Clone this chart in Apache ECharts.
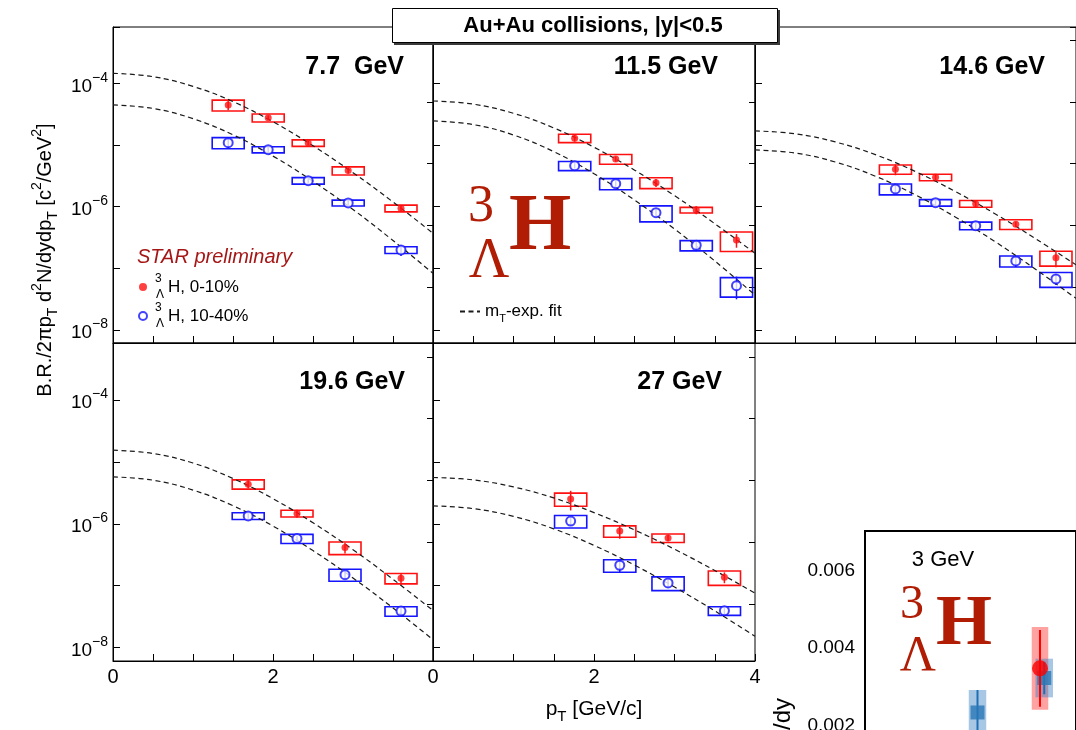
<!DOCTYPE html>
<html>
<head>
<meta charset="utf-8">
<script src="https://cdn.jsdelivr.net/npm/echarts@6/dist/echarts.min.js"></script>
<style>
  html, body { margin: 0; padding: 0; background: #fff; }
  #chart { width: 1076px; height: 730px; }
</style>
</head>
<body>
<div id="chart"></div>
<script>
// ---------------------------------------------------------------------------
// Hypertriton pT spectra in Au+Au collisions, five beam energies,
// two centrality classes, with mT-exponential fits; plus a 3 GeV dN/dy inset.
// ---------------------------------------------------------------------------

const energies = ['7.7  GeV', '11.5 GeV', '14.6 GeV', '19.6 GeV', '27 GeV'];

// pT bin centres [GeV/c], one row per energy
const ptCentres = [
  [1.44, 1.94, 2.44, 2.94, 3.6],
  [1.76, 2.27, 2.77, 3.27, 3.77],
  [1.75, 2.25, 2.75, 3.25, 3.75],
  [1.69, 2.3, 2.9, 3.6],
  [1.71, 2.32, 2.92, 3.62]
];

// B.R./(2 pi pT) d2N/dy dpT [c^2/GeV^2], 0-10% central
const yield0010 = [
  [4.45e-5, 2.77e-5, 1.08e-5, 3.84e-6, 9.4e-7],
  [1.29e-5, 5.93e-6, 2.45e-6, 8.83e-7, 2.88e-7],
  [4.04e-6, 2.99e-6, 1.12e-6, 5.19e-7, 1.49e-7],
  [4.38e-6, 1.47e-6, 4.13e-7, 1.32e-7],
  [2.53e-6, 7.67e-7, 5.92e-7, 1.37e-7]
];
// same, 10-40% centrality
const yield1040 = [
  [1.09e-5, 8.4e-6, 2.64e-6, 1.15e-6, 1.99e-7],
  [4.62e-6, 2.36e-6, 8.0e-7, 2.37e-7, 5.25e-8],
  [1.94e-6, 1.16e-6, 4.92e-7, 1.32e-7, 6.73e-8],
  [1.34e-6, 5.78e-7, 1.51e-7, 3.89e-8],
  [1.11e-6, 2.14e-7, 1.11e-7, 3.95e-8]
];

// relative statistical uncertainties
const stat0010 = [
  [0.18, 0.08, 0.08, 0.1, 0.12],
  [0.12, 0.1, 0.15, 0.15, 0.25],
  [0.2, 0.12, 0.12, 0.1, 0.3],
  [0.15, 0.15, 0.2, 0.22],
  [0.35, 0.25, 0.12, 0.2]
];
const stat1040 = [
  [0.2, 0.1, 0.08, 0.08, 0.2],
  [0.1, 0.1, 0.12, 0.2, 0.4],
  [0.15, 0.1, 0.12, 0.2, 0.2],
  [0.1, 0.1, 0.15, 0.2],
  [0.15, 0.25, 0.15, 0.15]
];
// relative systematic uncertainties (boxes)
const sys0010 = [
  [0.2, 0.15, 0.12, 0.15, 0.125],
  [0.155, 0.18, 0.2, 0.105, 0.35],
  [0.17, 0.12, 0.125, 0.18, 0.27],
  [0.17, 0.125, 0.23, 0.19],
  [0.24, 0.21, 0.155, 0.26]
];
const sys1040 = [
  [0.205, 0.115, 0.12, 0.11, 0.125],
  [0.17, 0.205, 0.29, 0.19, 0.35],
  [0.2, 0.12, 0.14, 0.205, 0.27],
  [0.125, 0.17, 0.22, 0.175],
  [0.23, 0.23, 0.25, 0.16]
];

// mT-exponential fit curves, sampled in pT
const fitPt = [0, 0.5, 1, 1.5, 2, 2.5, 3, 3.5, 4];
const fit0010 = [
  [1.45e-4, 1.28e-4, 8.9e-5, 5.05e-5, 2.38e-5, 9.7e-6, 3.56e-6, 1.19e-6, 3.7e-7],
  [5.16e-5, 4.59e-5, 3.26e-5, 1.89e-5, 9.2e-6, 3.94e-6, 1.51e-6, 5.3e-7, 1.76e-7],
  [1.69e-5, 1.52e-5, 1.12e-5, 6.97e-6, 3.71e-6, 1.75e-6, 7.55e-7, 3.01e-7, 1.14e-7],
  [1.55e-5, 1.37e-5, 9.6e-6, 5.4e-6, 2.55e-6, 1.04e-6, 3.82e-7, 1.27e-7, 3.98e-8],
  [5.61e-6, 5.13e-6, 3.95e-6, 2.62e-6, 1.52e-6, 8.0e-7, 3.89e-7, 1.76e-7, 7.6e-8]
];
const fit1040 = [
  [4.45e-5, 3.91e-5, 2.67e-5, 1.46e-5, 6.6e-6, 2.58e-6, 9.0e-7, 2.83e-7, 8.3e-8],
  [2.45e-5, 2.14e-5, 1.45e-5, 7.8e-6, 3.43e-6, 1.29e-6, 4.35e-7, 1.32e-7, 3.7e-8],
  [8.3e-6, 7.4e-6, 5.3e-6, 3.12e-6, 1.55e-6, 6.76e-7, 2.67e-7, 9.6e-8, 3.27e-8],
  [5.74e-6, 5.07e-6, 3.51e-6, 1.96e-6, 9.2e-7, 3.69e-7, 1.33e-7, 4.37e-8, 1.34e-8],
  [1.95e-6, 1.76e-6, 1.32e-6, 8.3e-7, 4.48e-7, 2.16e-7, 9.5e-8, 3.92e-8, 1.52e-8]
];

// half width of the pT bins [GeV/c]
const PT_HALF_WIDTH = 0.2;

// 3 GeV inset: dN/dy values
const insetRedPos = [7.0];
const insetRedY = [0.00348];
const insetRedStat = [0.00099];
const insetRedSys = [0.00107];
const insetBluePos = [4.5, 7.17];
const insetBlueY = [0.00234, 0.00323];
const insetBlueStat = [0.00058, 0.00042];
const insetBlueSys = [0.00058, 0.0005];
const INSET_HALF_WIDTH = 0.33;

// ---------------------------------------------------------------------------
const SANS = '"Liberation Sans", Arial, Helvetica, sans-serif';
const SERIF = '"Liberation Serif", "Times New Roman", serif';
const RED = '#ff1010';
const BLUE = '#1414ff';
const HRED = '#b01c04';

// panel frames (pixels) and vertical ranges of the two rows
const panelBoxes = [
  { left: 113, top: 27, width: 320, height: 316 },
  { left: 433, top: 27, width: 322, height: 316 },
  { left: 755, top: 27, width: 321, height: 316 },
  { left: 113, top: 343, width: 320, height: 318 },
  { left: 433, top: 343, width: 322, height: 318 }
];
const rowRange = [
  [6.17e-9, 8.17e-4],
  [6.07e-9, 8.36e-4]
];

function decadeLabel(v) {
  const e = Math.log10(v);
  const n = Math.round(e);
  if (Math.abs(e - n) > 1e-6 || n % 2 !== 0) return '';
  return '{b|10}{s|' + (n < 0 ? '\u2212' + (-n) : String(n)) + '}';
}

function boxRenderer(stroke, lw) {
  return function (params, api) {
    const x = api.value(0), y = api.value(1), e = api.value(2);
    const a = api.coord([x - PT_HALF_WIDTH, y * (1 + e)]);
    const b = api.coord([x + PT_HALF_WIDTH, y * (1 - e)]);
    return {
      type: 'rect',
      shape: { x: a[0], y: a[1], width: b[0] - a[0], height: b[1] - a[1] },
      style: { fill: 'none', stroke: stroke, lineWidth: lw }
    };
  };
}
function barRenderer(stroke, lw) {
  return function (params, api) {
    const x = api.value(0), y = api.value(1), e = api.value(2);
    const a = api.coord([x, y * (1 + e)]);
    const b = api.coord([x, y * (1 - e)]);
    return {
      type: 'line',
      shape: { x1: a[0], y1: a[1], x2: b[0], y2: b[1] },
      style: { stroke: stroke, lineWidth: lw }
    };
  };
}
function absBoxRenderer(fill, half) {
  return function (params, api) {
    const x = api.value(0), y = api.value(1), e = api.value(2);
    const a = api.coord([x - half, y + e]);
    const b = api.coord([x + half, y - e]);
    return {
      type: 'rect',
      shape: { x: a[0], y: a[1], width: b[0] - a[0], height: b[1] - a[1] },
      style: { fill: fill }
    };
  };
}
function absBarRenderer(stroke, lw) {
  return function (params, api) {
    const x = api.value(0), y = api.value(1), e = api.value(2);
    const a = api.coord([x, y + e]);
    const b = api.coord([x, y - e]);
    return {
      type: 'line',
      shape: { x1: a[0], y1: a[1], x2: b[0], y2: b[1] },
      style: { stroke: stroke, lineWidth: lw }
    };
  };
}

const grid = [];
const xAxis = [];
const yAxis = [];
const series = [];

panelBoxes.forEach((box, i) => {
  const row = i < 3 ? 0 : 1;
  const [ymin, ymax] = rowRange[row];
  grid.push(Object.assign({}, box, {
    show: true, borderColor: '#000', borderWidth: 1,
    backgroundColor: 'transparent', containLabel: false, outerBoundsMode: 'none'
  }));
  const xa = {
    gridIndex: i, type: 'value', min: 0, max: 4, interval: 0.5,
    axisLine: { show: true, onZero: false, lineStyle: { color: '#000', width: 1 } },
    axisTick: { show: true, inside: true, length: 7, lineStyle: { color: '#000', width: 1 } },
    splitLine: { show: false },
    axisLabel: {
      show: i >= 3, fontFamily: SANS, fontSize: 20, color: '#000', margin: 6,
      formatter: v => (Math.abs(v % 2) < 1e-9 && (i === 4 || v < 3.9)) ? String(v) : ''
    }
  };
  if (i === 4) {
    xa.name = '{t|p}{sub|T}{t| [GeV/c]}';
    xa.nameLocation = 'middle';
    xa.nameGap = 33;
    xa.nameTextStyle = {
      color: '#000',
      rich: {
        t: { fontFamily: SANS, fontSize: 21, color: '#000', lineHeight: 30 },
        sub: { fontFamily: SANS, fontSize: 15, color: '#000', verticalAlign: 'bottom', lineHeight: 30 }
      }
    };
  }
  xAxis.push(xa);
  // decade ticks + labels
  yAxis.push({
    gridIndex: i, type: 'log', logBase: 10, min: ymin, max: ymax,
    axisLine: { show: true, lineStyle: { color: '#000', width: 1 } },
    axisTick: { show: true, inside: true, length: 7, lineStyle: { color: '#000', width: 1 } },
    splitLine: { show: false },
    axisLabel: {
      show: i === 0 || i === 3, margin: 5, formatter: decadeLabel,
      lineHeight: 25,
      rich: {
        b: { fontFamily: SANS, fontSize: 19, color: '#000', verticalAlign: 'bottom', lineHeight: 25 },
        s: { fontFamily: SANS, fontSize: 14, color: '#000', verticalAlign: 'top', lineHeight: 25 }
      }
    }
  });
});
// 5 x 10^n ticks: a second log axis shifted by a factor 5
panelBoxes.forEach((box, i) => {
  const [ymin, ymax] = rowRange[i < 3 ? 0 : 1];
  yAxis.push({
    gridIndex: i, type: 'log', logBase: 10, min: ymin / 5, max: ymax / 5,
    axisLine: { show: false },
    axisTick: { show: true, inside: true, length: 6, lineStyle: { color: '#000', width: 1 } },
    splitLine: { show: false },
    axisLabel: { show: false }
  });
});

// series for each panel
panelBoxes.forEach((box, i) => {
  const pts = ptCentres[i];
  const mk = (vals, errs) => pts.map((x, k) => [x, vals[k], errs[k]]);
  series.push({
    name: 'sys 0-10%', type: 'custom', xAxisIndex: i, yAxisIndex: i,
    encode: { x: 0, y: 1 }, renderItem: boxRenderer(RED, 1.6),
    data: mk(yield0010[i], sys0010[i]), z: 2, silent: true
  });
  series.push({
    name: 'sys 10-40%', type: 'custom', xAxisIndex: i, yAxisIndex: i,
    encode: { x: 0, y: 1 }, renderItem: boxRenderer(BLUE, 1.6),
    data: mk(yield1040[i], sys1040[i]), z: 2, silent: true
  });
  [fit0010[i], fit1040[i]].forEach(f => {
    series.push({
      name: 'mT-exp. fit', type: 'line', xAxisIndex: i, yAxisIndex: i,
      data: fitPt.map((x, k) => [x, f[k]]), smooth: 0.4, showSymbol: false, symbol: 'none',
      lineStyle: { color: '#1a1a1a', width: 1.2, type: [5, 3.5] },
      itemStyle: { color: '#1a1a1a' }, z: 3, silent: true
    });
  });
  series.push({
    name: 'stat 0-10%', type: 'custom', xAxisIndex: i, yAxisIndex: i,
    encode: { x: 0, y: 1 }, renderItem: barRenderer(RED, 1.5),
    data: mk(yield0010[i], stat0010[i]), z: 4, silent: true
  });
  series.push({
    name: 'stat 10-40%', type: 'custom', xAxisIndex: i, yAxisIndex: i,
    encode: { x: 0, y: 1 }, renderItem: barRenderer(BLUE, 1.5),
    data: mk(yield1040[i], stat1040[i]), z: 4, silent: true
  });
  series.push({
    name: '0-10%', type: 'scatter', xAxisIndex: i, yAxisIndex: i,
    data: pts.map((x, k) => [x, yield0010[i][k]]),
    symbol: 'circle', symbolSize: 7, itemStyle: { color: RED }, z: 5
  });
  series.push({
    name: '10-40%', type: 'scatter', xAxisIndex: i, yAxisIndex: i,
    data: pts.map((x, k) => [x, yield1040[i][k]]),
    symbol: 'emptyCircle', symbolSize: 9,
    itemStyle: { color: BLUE, borderColor: BLUE, borderWidth: 1.4 }, z: 5
  });
});

// ---- 3 GeV inset -----------------------------------------------------------
const insetGrid = grid.length;
grid.push({
  left: 865, top: 531, width: 211, height: 272, show: true,
  backgroundColor: '#fff', borderColor: '#000', borderWidth: 2,
  containLabel: false, outerBoundsMode: 'none', z: 1
});
const insetX = xAxis.length;
xAxis.push({
  gridIndex: insetGrid, type: 'value', position: 'top', min: 0, max: 8.44, interval: 1,
  axisLine: { show: true, lineStyle: { color: '#000', width: 2 } },
  axisTick: { show: true, inside: true, length: 6, lineStyle: { color: '#000', width: 1.5 } },
  axisLabel: { show: false }, splitLine: { show: false }
});
const insetY = yAxis.length;
yAxis.push({
  gridIndex: insetGrid, type: 'value', min: 0, max: 0.00703, interval: 0.002,
  axisLine: { show: true, lineStyle: { color: '#000', width: 2 } },
  axisTick: { show: true, inside: true, length: 9, lineStyle: { color: '#000', width: 1.5 } },
  minorTick: { show: true, splitNumber: 4, length: 5, lineStyle: { color: '#000', width: 1.2 } },
  splitLine: { show: false }, minorSplitLine: { show: false },
  axisLabel: {
    fontFamily: SANS, fontSize: 19, color: '#000', margin: 10,
    formatter: v => (v > 0 && v < 0.007) ? v.toFixed(3) : ''
  }
});
const insetCommon = { xAxisIndex: insetX, yAxisIndex: insetY, silent: true };
series.push(Object.assign({
  name: 'inset red sys', type: 'custom', encode: { x: 0, y: 1 },
  renderItem: absBoxRenderer('rgba(255,70,70,0.5)', INSET_HALF_WIDTH),
  data: insetRedPos.map((x, k) => [x, insetRedY[k], insetRedSys[k]]), z: 6
}, insetCommon));
series.push(Object.assign({
  name: 'inset blue sys', type: 'custom', encode: { x: 0, y: 1 },
  renderItem: absBoxRenderer('rgba(60,130,195,0.45)', INSET_HALF_WIDTH + 0.02),
  data: insetBluePos.map((x, k) => [x, insetBlueY[k], insetBlueSys[k]]), z: 6
}, insetCommon));
series.push(Object.assign({
  name: 'inset blue stat', type: 'custom', encode: { x: 0, y: 1 },
  renderItem: absBarRenderer('#1f6fb4', 2),
  data: insetBluePos.map((x, k) => [x, insetBlueY[k], insetBlueStat[k]]), z: 7
}, insetCommon));
series.push(Object.assign({
  name: 'inset blue', type: 'scatter', symbol: 'rect', symbolSize: 14,
  itemStyle: { color: '#2a77b6' },
  data: insetBluePos.map((x, k) => [x, insetBlueY[k]]), z: 8
}, insetCommon));
series.push(Object.assign({
  name: 'inset red stat', type: 'custom', encode: { x: 0, y: 1 },
  renderItem: absBarRenderer('#f00', 2),
  data: insetRedPos.map((x, k) => [x, insetRedY[k], insetRedStat[k]]), z: 9
}, insetCommon));
series.push(Object.assign({
  name: 'inset red', type: 'scatter', symbol: 'circle', symbolSize: 16,
  itemStyle: { color: '#ff0000' },
  data: insetRedPos.map((x, k) => [x, insetRedY[k]]), z: 10
}, insetCommon));

// ---- annotations -----------------------------------------------------------
const hypRich = {
  sup: { fontFamily: SANS, fontSize: 12, color: '#000', verticalAlign: 'top', lineHeight: 28, width: 1 },
  sub: { fontFamily: SANS, fontSize: 12, color: '#000', verticalAlign: 'bottom', lineHeight: 28, width: 12 },
  t: { fontFamily: SANS, fontSize: 17, color: '#000', lineHeight: 28 }
};

const energyPos = [[404, 67], [718, 67], [1045, 67], [405, 382], [722, 382]];
const graphic = [];
energies.forEach((e, i) => {
  graphic.push({
    type: 'text', x: energyPos[i][0], y: energyPos[i][1], z: 50,
    style: { text: e, font: 'bold 25px ' + SANS, fill: '#000', align: 'right', verticalAlign: 'middle' }
  });
});
graphic.push(
  { type: 'rect', z: 60, shape: { x: 394, y: 10, width: 386, height: 35 }, style: { fill: '#3a3a3a' } },
  { type: 'rect', z: 61, shape: { x: 392.5, y: 8.5, width: 385, height: 34 }, style: { fill: '#fff', stroke: '#000', lineWidth: 1 } },
  { type: 'text', z: 62, x: 593, y: 26,
    style: { text: 'Au+Au collisions, |y|<0.5', font: 'bold 22px ' + SANS, fill: '#000', align: 'center', verticalAlign: 'middle' } },
  { type: 'text', z: 50, x: 137, y: 257,
    style: { text: 'STAR preliminary', font: 'italic 20px ' + SANS, fill: '#a51616', align: 'left', verticalAlign: 'middle' } },
  // big hypertriton symbol, panel 2
  { type: 'text', z: 50, x: 481, y: 207,
    style: { text: '3', font: '52px ' + SERIF, fill: HRED, align: 'center', verticalAlign: 'middle' } },
  { type: 'text', z: 50, x: 489, y: 262,
    style: { text: '\u039B', font: '56px ' + SERIF, fill: HRED, align: 'center', verticalAlign: 'middle' } },
  { type: 'text', z: 50, x: 540, y: 228,
    style: { text: 'H', font: 'bold 80px ' + SERIF, fill: HRED, align: 'center', verticalAlign: 'middle' } },
  // y axis title
  { type: 'text', z: 50, x: 45, y: 260, rotation: Math.PI / 2,
    style: {
      text: '{t|B.R./2\u03C0p}{sub|T}{t| d}{sup|2}{t|N/dydp}{sub|T}{t| [c}{sup|2}{t|/GeV}{sup|2}{t|]}',
      align: 'center', verticalAlign: 'middle',
      rich: {
        t: { fontFamily: SANS, fontSize: 20, fill: '#000', color: '#000', lineHeight: 30 },
        sub: { fontFamily: SANS, fontSize: 14, fill: '#000', color: '#000', verticalAlign: 'bottom', lineHeight: 30 },
        sup: { fontFamily: SANS, fontSize: 14, fill: '#000', color: '#000', verticalAlign: 'top', lineHeight: 30 }
      }
    } },
  // inset annotations
  { type: 'text', z: 50, x: 943, y: 560,
    style: { text: '3 GeV', font: '22px ' + SANS, fill: '#000', align: 'center', verticalAlign: 'middle' } },
  { type: 'text', z: 50, x: 912, y: 605,
    style: { text: '3', font: '48px ' + SERIF, fill: HRED, align: 'center', verticalAlign: 'middle' } },
  { type: 'text', z: 50, x: 918, y: 657,
    style: { text: '\u039B', font: '50px ' + SERIF, fill: HRED, align: 'center', verticalAlign: 'middle' } },
  { type: 'text', z: 50, x: 964, y: 625,
    style: { text: 'H', font: 'bold 72px ' + SERIF, fill: HRED, align: 'center', verticalAlign: 'middle' } },
  { type: 'text', z: 50, x: 783, y: 698, rotation: Math.PI / 2,
    style: { text: 'dN/dy', font: '24px ' + SANS, fill: '#000', align: 'right', verticalAlign: 'middle' } }
);

const option = {
  animation: false,
  backgroundColor: '#fff',
  grid, xAxis, yAxis, series, graphic,
  legend: [
    {
      data: ['0-10%', '10-40%'], orient: 'vertical', left: 138, top: 273, padding: 0,
      itemWidth: 8, itemHeight: 8, itemGap: 1, selectedMode: false,
      formatter: n => '{sup|3}{sub|\u039B}{t|H, ' + n + '}',
      textStyle: { fontFamily: SANS, fontSize: 17, color: '#000', rich: hypRich, padding: [0, 0, 0, 3] }
    },
    {
      data: ['mT-exp. fit'], left: 459, top: 303, padding: 0,
      itemWidth: 20, itemHeight: 10, selectedMode: false,
      itemStyle: { color: 'transparent', borderColor: 'transparent', borderWidth: 0, opacity: 0 },
      formatter: () => '{t|m}{sub|T}{t|-exp. fit}',
      textStyle: {
        fontFamily: SANS, fontSize: 17, color: '#000',
        rich: {
          t: { fontFamily: SANS, fontSize: 17, color: '#000', lineHeight: 26 },
          sub: { fontFamily: SANS, fontSize: 11, color: '#000', verticalAlign: 'bottom', lineHeight: 26 }
        }
      }
    }
  ]
};

const chart = echarts.init(document.getElementById('chart'), null, { renderer: 'canvas', width: 1076, height: 730 });
chart.setOption(option);
</script>
</body>
</html>
